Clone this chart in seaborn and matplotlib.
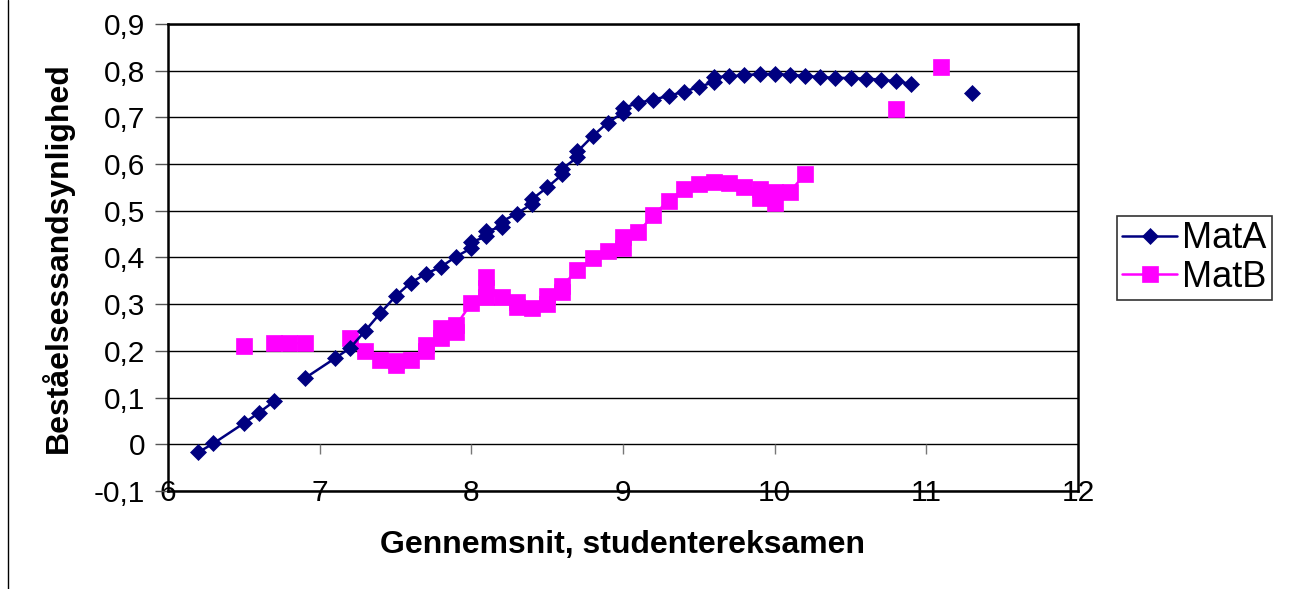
import numpy as np
import pandas as pd
import seaborn as sns
import matplotlib.pyplot as plt
from matplotlib.lines import Line2D

# Data (x = gennemsnit, y = beståelsessandsynlighed)
mata_x = [6.2, 6.3, 6.5, 6.6, 6.7, 6.9, 7.1, 7.2, 7.3, 7.4, 7.5, 7.6, 7.7, 7.8, 7.9,
          8.0, 8.0, 8.1, 8.1, 8.2, 8.2, 8.3, 8.4, 8.4, 8.5, 8.6, 8.6, 8.7, 8.7, 8.8,
          8.9, 9.0, 9.0, 9.1, 9.2, 9.3, 9.4, 9.5, 9.6, 9.6, 9.7, 9.8, 9.9, 10.0,
          10.1, 10.2, 10.3, 10.4, 10.5, 10.6, 10.7, 10.8, 10.9, 11.3]
mata_y = [-0.017, 0.002, 0.045, 0.068, 0.092, 0.141, 0.184, 0.206, 0.243, 0.281,
          0.317, 0.346, 0.365, 0.380, 0.402, 0.420, 0.433, 0.445, 0.456, 0.466,
          0.477, 0.494, 0.515, 0.525, 0.550, 0.578, 0.590, 0.615, 0.627, 0.660,
          0.689, 0.710, 0.720, 0.731, 0.738, 0.746, 0.755, 0.765, 0.776, 0.786,
          0.788, 0.790, 0.793, 0.793, 0.791, 0.789, 0.786, 0.785, 0.784, 0.783,
          0.781, 0.777, 0.772, 0.752]
mata_breaks = [6.8, 11.0]  # empty rows -> line breaks

matb_x = [6.5, 6.7, 6.8, 6.9, 7.2, 7.3, 7.4, 7.5, 7.5, 7.6, 7.7, 7.7, 7.8, 7.8,
          7.9, 7.9, 8.0, 8.1, 8.1, 8.1, 8.2, 8.3, 8.3, 8.4, 8.5, 8.5, 8.6, 8.6, 8.7,
          8.8, 8.9, 9.0, 9.0, 9.1, 9.2, 9.3, 9.4, 9.5, 9.6, 9.7, 9.8, 9.9, 9.9,
          10.0, 10.0, 10.1, 10.2, 10.8, 11.1]
matb_y = [0.210, 0.216, 0.216, 0.217, 0.227, 0.200, 0.180, 0.170, 0.178, 0.180,
          0.200, 0.212, 0.227, 0.250, 0.240, 0.255, 0.302, 0.315, 0.358, 0.335,
          0.315, 0.304, 0.293, 0.291, 0.300, 0.318, 0.326, 0.340, 0.373, 0.398,
          0.413, 0.420, 0.443, 0.455, 0.490, 0.522, 0.546, 0.558, 0.561, 0.559,
          0.550, 0.546, 0.527, 0.540, 0.516, 0.541, 0.578, 0.717, 0.808]
matb_breaks = [6.6, 7.0, 10.5, 11.0]

x_ticks = [6, 7, 8, 9, 10, 11, 12]
y_ticks = [-0.1, 0, 0.1, 0.2, 0.3, 0.4, 0.5, 0.6, 0.7, 0.8, 0.9]
y_tick_labels = ['-0,1', '0', '0,1', '0,2', '0,3', '0,4', '0,5', '0,6', '0,7', '0,8', '0,9']

sns.set_style("white")
plt.rcParams['font.family'] = ['Liberation Sans', 'DejaVu Sans']
plt.rcParams['text.color'] = 'black'
plt.rcParams['axes.labelcolor'] = 'black'
plt.rcParams['xtick.color'] = 'black'
plt.rcParams['ytick.color'] = 'black'

df_a = pd.DataFrame({'x': mata_x, 'y': mata_y,
                     'seg': np.searchsorted(mata_breaks, mata_x)})
df_b = pd.DataFrame({'x': matb_x, 'y': matb_y,
                     'seg': np.searchsorted(matb_breaks, matb_x)})

fig = plt.figure(figsize=(12.96, 5.89), dpi=100)
ax = fig.add_axes([168 / 1296, 1 - 491 / 589, 910 / 1296, 467 / 589])

sns.lineplot(data=df_b, x='x', y='y', units='seg', estimator=None, sort=False,
             color='#FF00FF', marker='s', markersize=11.3, markeredgecolor='#FF00FF',
             markeredgewidth=0.5, linewidth=1.8, label='MatB', ax=ax, zorder=3)
sns.lineplot(data=df_a, x='x', y='y', units='seg', estimator=None, sort=False,
             color='#000080', marker='D', markersize=8.3, markeredgecolor='#000080',
             markeredgewidth=0.5, linewidth=1.8, label='MatA', ax=ax, zorder=4)

ax.set_xlim(6, 12)
ax.set_ylim(-0.1, 0.9)
ax.set_xticks(x_ticks)
ax.set_xticklabels([str(t) for t in x_ticks])
ax.set_yticks(y_ticks)
ax.set_yticklabels(y_tick_labels)
ax.yaxis.grid(True, color='black', linewidth=1)
ax.xaxis.grid(False)

for s in ax.spines.values():
    s.set_color('black')
    s.set_linewidth(1.8)

ax.tick_params(axis='y', direction='out', length=9.5, width=1, color='#555555',
               pad=7, labelsize=21.5, left=True)
ax.tick_params(axis='x', length=0, pad=-8.5, labelsize=21.5)

# small tick marks where the x axis crosses y = 0
ax.vlines(x_ticks[1:-1], -0.021, 0, color='#777777', linewidth=1)

ax.set_xlabel('Gennemsnit, studentereksamen', fontsize=23, fontweight='bold')
ax.xaxis.set_label_coords(0.5, -0.115)
ax.xaxis.label.set_va('center')
ax.set_ylabel('Beståelsessandsynlighed', fontsize=23, fontweight='bold')
ax.yaxis.set_label_coords(-0.122, 0.5)
ax.yaxis.label.set_va('center')

# legend (dedupe the per-segment lines)
handles, labels = ax.get_legend_handles_labels()
uniq = dict(zip(labels, handles))
if ax.get_legend() is not None:
    ax.get_legend().remove()
leg = fig.legend([uniq['MatA'], uniq['MatB']], ['MatA', 'MatB'],
                 loc='center left', bbox_to_anchor=(1117 / 1296, 1 - 258 / 589),
                 fontsize=26, frameon=True, fancybox=False, edgecolor='black',
                 handlelength=1.5, handletextpad=0.15, borderpad=0.15,
                 labelspacing=0.1, borderaxespad=0)
leg.get_frame().set_linewidth(1.2)

fig.add_artist(Line2D([8 / 1296, 8 / 1296], [0, 1], transform=fig.transFigure,
                      color='black', linewidth=1))

fig.savefig('out.png', dpi=100)
